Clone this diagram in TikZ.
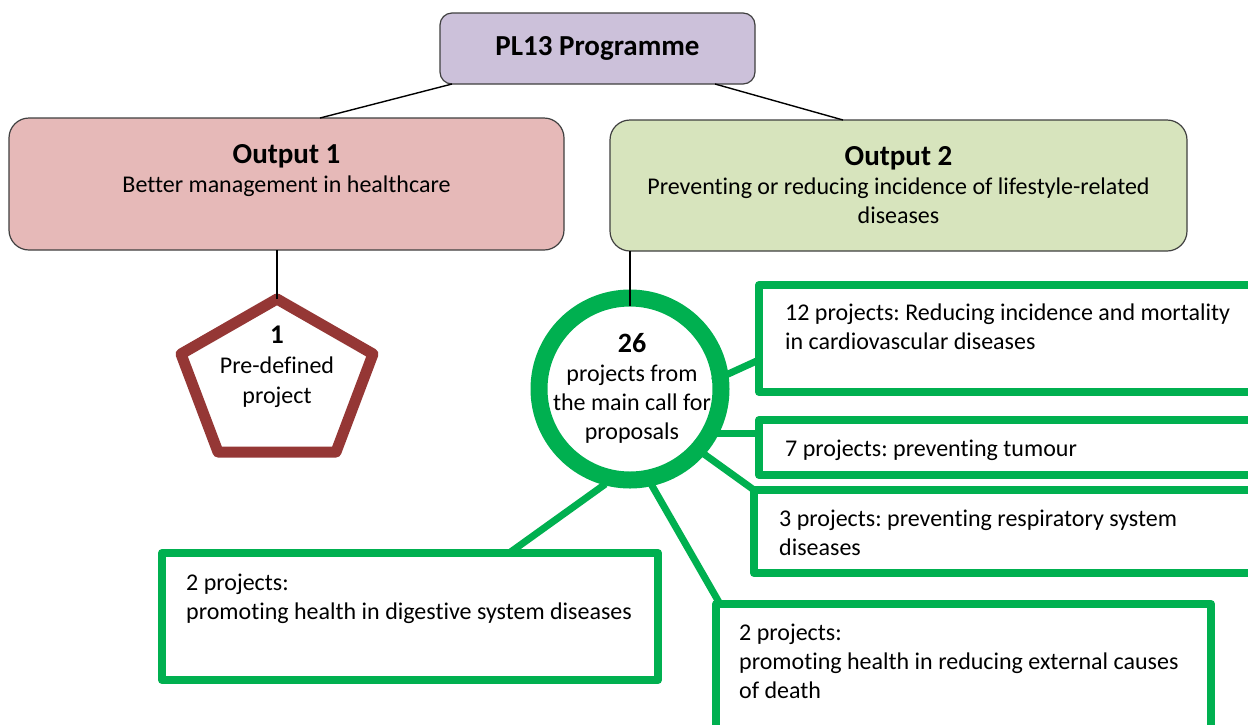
\documentclass[tikz,border=0pt]{standalone}
\usepackage{fontspec}
\setmainfont{Carlito}[Ligatures=NoCommon]
\usetikzlibrary{calc}
\frenchspacing

\definecolor{lavender}{HTML}{CCC1DA}
\definecolor{rosebox}{HTML}{E6B9B8}
\definecolor{olivebox}{HTML}{D7E4BD}
\definecolor{brick}{HTML}{953735}
\definecolor{leaf}{HTML}{00B050}

\begin{document}
\begin{tikzpicture}[x=1pt,y=-1pt,
    every node/.style={font=\fontsize{24}{29}\selectfont},
    topbox/.style={draw=black!75,line width=1.2pt,rounded corners=20pt,inner sep=0pt,outer sep=0pt},
    projbox/.style={draw=leaf,line width=8pt,line join=round,inner sep=0pt,outer sep=0pt},
    txt/.style={inner sep=0pt,align=left,anchor=base west},
    link/.style={line width=1.4pt},
    greenlink/.style={draw=leaf,line width=7pt}]
    \useasboundingbox (0,0) rectangle (1248,724);
    \fill[white] (0,0) rectangle (1248,724);
    \clip (0,0) rectangle (1248,724);

    % top of the tree
    \node[topbox,fill=lavender,rounded corners=12pt,minimum width=315,minimum height=71] (prog) at (597.5,48.5)
        {\bfseries\fontsize{29}{31}\selectfont PL13 Programme};

    \node[topbox,fill=rosebox,minimum width=555,minimum height=132] (out1) at (286.5,184) {};
    \node[align=center,inner sep=0pt] (out1txt) at (286.5,171)
        {{\bfseries\fontsize{29}{31}\selectfont Output 1}\\Better management in healthcare};

    \node[topbox,fill=olivebox,minimum width=577,minimum height=131] (out2) at (898.5,185.5) {};
    \node[align=center,inner sep=0pt] (out2txt) at (898.5,185.5)
        {{\bfseries\fontsize{29}{31}\selectfont Output 2}\\Preventing or reducing incidence of lifestyle-related\\diseases};

    \draw[link] ([xshift=12pt]prog.south west) -- ([xshift=33.5pt]out1.north);
    \draw[link] ([xshift=-40pt]prog.south east) -- ([xshift=-55.5pt]out2.north);

    % output 1: pre-defined project
    \coordinate (ptop) at (277,299);
    \coordinate (pright) at (373,354);
    \coordinate (pbr) at (336,452);
    \coordinate (pbl) at (218,452);
    \coordinate (pleft) at (181,354);
    \draw[brick,line width=11pt,line join=round,fill=white] (ptop) -- (pright) -- (pbr) -- (pbl) -- (pleft) -- cycle;
    \node[align=center,inner sep=0pt] (pretxt) at (277,367)
        {{\bfseries\fontsize{27}{30}\selectfont 1}\\[1pt]Pre-defined\\[1pt]project};
    \draw[link] (out1.south -| ptop) -- (ptop);

    % output 2: call for proposals
    \node[circle,draw=leaf,line width=17pt,fill=white,minimum size=182,inner sep=0pt,outer sep=0pt] (circ) at (630,389) {};
    \node[align=center,inner sep=0pt] (circtxt) at (632,388.5)
        {{\bfseries\fontsize{28}{30}\selectfont 26}\\projects from\\the main call for\\proposals};
    \draw[link] (out2.south -| circ.north) -- ([yshift=-8pt]circ.north);

    \node[projbox,minimum width=511,minimum height=107] (b12) at (1014.5,338.5) {};
    \node[projbox,minimum width=511,minimum height=55] (b7) at (1014.5,447.5) {};
    \node[projbox,minimum width=516,minimum height=83] (b3) at (1012,531.5) {};
    \node[projbox,minimum width=496,minimum height=127] (bl) at (410,616.5) {};
    \node[projbox,minimum width=495,minimum height=136] (br) at (963.5,672) {};

    % base of a text node = baseline of its last line
    \node[txt] (b12txt) at (785,349) {12 projects: Reducing incidence and mortality\\in cardiovascular diseases};
    \node[txt] (b7txt) at (785,456) {7 projects: preventing tumour};
    \node[txt] (b3txt) at (779,555) {3 projects: preventing respiratory system\\diseases};
    \node[txt] (bltxt) at (186,619) {2 projects:\\promoting health in digestive system diseases};
    \node[txt] (brtxt) at (739,698) {2 projects:\\promoting health in reducing external causes\\of death};

    \draw[greenlink] ([shift={(-8pt,0)}]circ.5) -- ($(b12.north west)!0.7!(b12.south west)$);
    \draw[greenlink] ([xshift=-8pt]circ.-29) -- (circ.-29 -| b7.west);
    \draw[greenlink] ([shift={(-6pt,-5pt)}]circ.-37) -- (b3.north west);
    \draw[greenlink] ([shift={(2pt,-8pt)}]circ.-107) -- ($(bl.north west)!0.7!(bl.north east)$);
    \draw[greenlink] ([shift={(-2pt,-8pt)}]circ.-75) -- ([xshift=4pt]br.north west);
\end{tikzpicture}
\end{document}
